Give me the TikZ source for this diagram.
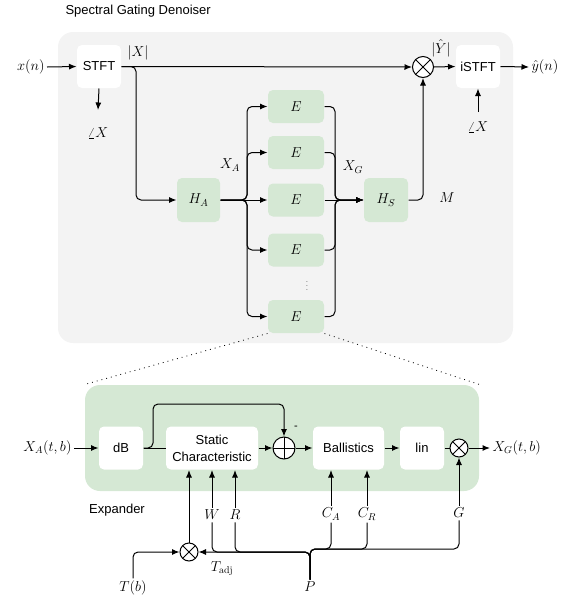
\documentclass[tikz,border=0pt]{standalone}
\usepackage{fontspec}
\setsansfont{Liberation Sans}
\usetikzlibrary{arrows.meta,calc}
\definecolor{panelgray}{HTML}{F3F3F3}
\definecolor{boxgreen}{HTML}{D5E8D4}
\begin{document}
\begin{tikzpicture}[x=1pt,y=-1pt,
  >={Latex[length=7.5pt,width=6pt]},
  line width=1pt,
  conn/.style={draw, line width=1pt, rounded corners=5pt},
  sftext/.style={font=\sffamily\fontsize{13}{17}\selectfont},
  wbox/.style={sftext, rounded corners=5pt, inner sep=0pt, align=center, minimum height=43pt, fill=white},
  gbox/.style={rounded corners=5pt, inner sep=0pt, fill=boxgreen, minimum height=33pt, minimum width=56pt, font=\fontsize{14.4}{17}\selectfont},
  lbl/.style={inner sep=2pt, font=\fontsize{14.4}{17}\selectfont},
  opnode/.style={circle, draw, fill=white, line width=1pt, inner sep=0pt},
  optimes/.style={opnode, path picture={\draw[line width=1pt] (path picture bounding box.north west) -- (path picture bounding box.south east) (path picture bounding box.north east) -- (path picture bounding box.south west);}},
  opplus/.style={opnode, path picture={\draw[line width=1pt] (path picture bounding box.north) -- (path picture bounding box.south) (path picture bounding box.east) -- (path picture bounding box.west);}},
  dotline/.style={draw, line width=0.8pt, dash pattern=on 0.9pt off 4pt},
]
\useasboundingbox (0,0) rectangle (571,598);

% ---------------- backgrounds ----------------
\node[fill=panelgray, rounded corners=15pt, minimum width=455pt, minimum height=311pt, inner sep=0pt] (panel) at (285.5,187.5) {};
\node[fill=boxgreen, rounded corners=15pt, minimum width=394pt, minimum height=106pt, inner sep=0pt] (expbox) at (282,438) {};

\node[sftext, anchor=west, inner sep=0pt] (title) at (65,11) {Spectral Gating Denoiser};
\node[sftext, inner sep=0pt] (explbl) at (117,510) {Expander};

% ---------------- top part ----------------
\node[wbox, minimum width=44pt] (STFT) at (99,66.5) {STFT};
\node[wbox, minimum width=44pt] (iSTFT) at (478,66.5) {iSTFT};
\node[gbox, minimum width=43pt, minimum height=44pt] (HA) at (198.5,200) {$H_A$};
\node[gbox, minimum width=44pt, minimum height=44pt] (HS) at (386,200) {$H_S$};
\node[gbox] (E1) at (296,106.5) {$E$};
\node[gbox] (E2) at (296,152.5) {$E$};
\node[gbox] (E3) at (296,200) {$E$};
\node[gbox] (E4) at (296,250) {$E$};
\node[gbox] (E5) at (296,316.5) {$E$};
\node[inner sep=0pt, font=\fontsize{8}{9}\selectfont] (dots) at (307,283) {$\vdots$};
\node[optimes, minimum size=21pt] (mul1) at (423,67) {};

\node[lbl, anchor=east] (xn) at (47,67) {$x(n)$};
\node[lbl, anchor=west] (yhat) at (529,67) {$\hat{y}(n)$};
\node[lbl] (absX) at (138,53) {$|X|$};
\node[lbl] (absY) at (441,48) {$|\hat{Y}|$};
\node[lbl] (ang1) at (98,133) {$\angle X$};
\node[lbl] (ang2) at (478,127) {$\angle X$};
\node[lbl] (XAlbl) at (230,165) {$X_A$};
\node[lbl] (XGlbl) at (353,167) {$X_G$};
\node[lbl] (Mlbl) at (447,198) {$M$};

\coordinate (aX1) at (98,110);
\coordinate (aX2) at (478,112);
\coordinate (busA) at (136,200);
\coordinate (busL) at (247,200);
\coordinate (busR) at (335,200);

\draw[->] (xn.east) -- (STFT.west);
\draw[->] (STFT.east) -- (mul1.west);
\draw[conn,->] (STFT.east) -| (busA) -- (HA.west);
\draw[->] (STFT.south) -- (aX1);
\draw[->] (aX2) -- (iSTFT.south);
\draw[->] (mul1.east) -- (iSTFT.west);
\draw[->] (iSTFT.east) -- (yhat.west);

\draw[conn,->] (HA.east) -- (busL) |- (E1.west);
\draw[conn,->] (HA.east) -- (busL) |- (E2.west);
\draw[->] (HA.east) -- (E3.west);
\draw[conn,->] (HA.east) -- (busL) |- (E4.west);
\draw[conn,->] (HA.east) -- (busL) |- (E5.west);

\draw[conn,->] (E1.east) -| (busR) -- (HS.west);
\draw[conn,->] (E2.east) -| (busR) -- (HS.west);
\draw[->] (E3.east) -- (HS.west);
\draw[conn,->] (E4.east) -| (busR) -- (HS.west);
\draw[conn,->] (E5.east) -| (busR) -- (HS.west);

\draw[conn,->] (HS.east) -| (mul1.south);

% zoom lines
\draw[dotline] (E5.south west) -- (expbox.north west);
\draw[dotline] (E5.south east) -- (expbox.north east);

% ---------------- expander ----------------
\node[wbox, minimum width=44pt] (dB) at (121,448) {dB};
\node[wbox, minimum width=92pt] (Static) at (212,448) {Static\\Characteristic};
\node[opplus, minimum size=22pt] (plus) at (284,448) {};
\node[wbox, minimum width=71pt] (Ball) at (348.5,448) {Ballistics};
\node[wbox, minimum width=44pt] (lin) at (422,448) {lin};
\node[optimes, minimum size=18pt] (mul2) at (459,448) {};
\node[optimes, minimum size=18pt] (mulT) at (189,552) {};

\node[lbl, anchor=east] (XA) at (74,448) {$X_A(t,b)$};
\node[lbl, anchor=west] (XG) at (490,448) {$X_G(t,b)$};
\node[inner sep=0pt, font=\sffamily\fontsize{11}{12}\selectfont] (minus) at (296,428) {-};
\node[lbl] (W) at (212,515) {$W$};
\node[lbl] (R) at (235,515) {$R$};
\node[lbl] (CA) at (331,514) {$C_A$};
\node[lbl] (CR) at (367,514) {$C_R$};
\node[lbl] (G) at (459,513) {$G$};
\node[lbl] (Tb) at (133,588) {$T(b)$};
\node[lbl] (Tadj) at (222,569) {$T_{\mathrm{adj}}$};
\node[lbl] (P) at (310,587) {$P$};

\coordinate (brA) at (153,448);
\coordinate (brB) at (200,404);
\coordinate (busPL) at (310,552);
\coordinate (busPR) at (310,549);

\draw[->] (XA.east) -- (dB.west);
\draw (dB.east) -- (Static.west);
\draw[conn,->] (dB.east) -- (brA) |- (brB) -- (plus.north |- brB) -- (plus.north);
\draw[->] (Static.east) -- (plus.west);
\draw[->] (plus.east) -- (Ball.west);
\draw[->] (Ball.east) -- (lin.west);
\draw (lin.east) -- (mul2.west);
\draw[->] (mul2.east) -- (XG.west);

\draw[->] (W.north) -- (W.north |- Static.south);
\draw[->] (R.north) -- (R.north |- Static.south);
\draw[->] (mulT.north) -- (mulT.north |- Static.south);
\draw[->] (CA.north) -- (CA.north |- Ball.south);
\draw[->] (CR.north) -- (CR.north |- Ball.south);
\draw[->] (G.north) -- (mul2.south);

\draw[conn,->] (Tb.north) |- (mulT.west);
\draw[conn,->] (P.north) -- (busPL) -- (mulT.east);
\draw[conn] (P.north) -- (busPL) -| (W.south);
\draw[conn] (P.north) -- (busPL) -| (R.south);
\draw[conn] (P.north) -- (busPR) -| (CA.south);
\draw[conn] (P.north) -- (busPR) -| (CR.south);
\draw[conn] (P.north) -- (busPR) -| (G.south);
\end{tikzpicture}
\end{document}
